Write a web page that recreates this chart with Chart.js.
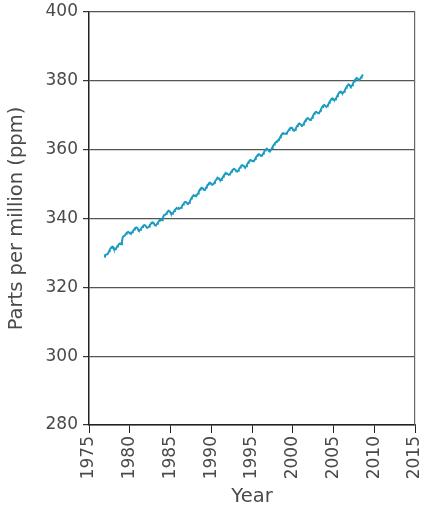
<!DOCTYPE html>
<html>
<head>
<meta charset="utf-8">
<script src="https://cdn.jsdelivr.net/npm/chart.js@4.4.1/dist/chart.umd.min.js"></script>
<style>
  html, body { margin: 0; padding: 0; background: #ffffff; }
  #wrap { width: 425px; height: 510px; }
</style>
</head>
<body>
<div id="wrap"><canvas id="co2"></canvas></div>
<script>
// Monthly mean CO2 concentration (ppm), November 1976 to August 2008
const firstYear = 1976;
const firstMonthIndex = 10; // November
const ppmMonthly = [
  328.9, 329.3,
  329.4, 329.5, 329.5, 329.7, 330.1, 330.5, 330.9, 331.2, 331.5, 331.7, 331.8, 331.7, // 1977
  331.2, 331.0, 331.1, 331.2, 331.5, 331.9, 332.1, 332.4, 332.6, 332.7, 332.7, 332.5, // 1978
  333.2, 334.4, 334.8, 334.8, 335.0, 335.3, 335.6, 335.8, 336.0, 336.1, 336.0, 335.8, // 1979
  335.9, 335.7, 335.8, 336.0, 336.3, 336.6, 336.8, 337.1, 337.3, 337.4, 337.4, 337.2, // 1980
  336.7, 336.5, 336.6, 336.7, 337.0, 337.3, 337.5, 337.8, 338.0, 338.1, 338.0, 337.8, // 1981
  337.5, 337.3, 337.3, 337.5, 337.7, 338.1, 338.3, 338.6, 338.8, 338.9, 338.8, 338.6, // 1982
  338.2, 338.0, 338.1, 338.3, 338.5, 338.9, 339.1, 339.4, 339.6, 339.7, 339.6, 339.5, // 1983
  340.0, 340.6, 341.0, 341.0, 341.1, 341.4, 341.6, 341.9, 342.1, 342.2, 342.1, 341.9, // 1984
  341.5, 341.3, 341.4, 341.6, 341.9, 342.2, 342.5, 342.7, 342.9, 343.0, 342.9, 342.8, // 1985
  343.0, 342.9, 343.0, 343.1, 343.4, 343.8, 344.1, 344.4, 344.6, 344.8, 344.8, 344.7, // 1986
  344.4, 344.3, 344.4, 344.6, 345.0, 345.4, 345.8, 346.1, 346.4, 346.6, 346.7, 346.6, // 1987
  346.7, 346.6, 346.7, 347.0, 347.3, 347.7, 348.1, 348.4, 348.7, 348.9, 348.9, 348.8, // 1988
  348.5, 348.3, 348.4, 348.6, 349.0, 349.3, 349.7, 349.9, 350.2, 350.4, 350.4, 350.2, // 1989
  349.9, 349.8, 349.8, 350.1, 350.4, 350.7, 351.1, 351.3, 351.6, 351.8, 351.7, 351.6, // 1990
  351.3, 351.2, 351.2, 351.5, 351.8, 352.1, 352.5, 352.7, 353.0, 353.2, 353.1, 353.0, // 1991
  352.9, 352.7, 352.8, 352.9, 353.2, 353.6, 353.8, 354.1, 354.3, 354.4, 354.4, 354.2, // 1992
  353.8, 353.7, 353.7, 353.9, 354.2, 354.6, 354.8, 355.1, 355.4, 355.5, 355.4, 355.3, // 1993
  355.1, 354.9, 355.0, 355.2, 355.6, 355.9, 356.3, 356.5, 356.8, 357.0, 357.0, 356.8, // 1994
  356.8, 356.6, 356.7, 356.9, 357.3, 357.6, 358.0, 358.2, 358.5, 358.7, 358.7, 358.5, // 1995
  358.4, 358.2, 358.3, 358.5, 358.9, 359.2, 359.6, 359.8, 360.1, 360.3, 360.2, 360.1, // 1996
  359.7, 359.5, 359.6, 359.8, 360.1, 360.5, 360.9, 361.2, 361.5, 361.8, 362.0, 362.2, // 1997
  362.4, 362.5, 362.7, 362.9, 363.2, 363.6, 364.0, 364.3, 364.6, 364.8, 364.8, 364.7, // 1998
  364.7, 364.6, 364.7, 364.9, 365.2, 365.5, 365.8, 366.1, 366.3, 366.4, 366.4, 366.2, // 1999
  365.7, 365.6, 365.6, 365.8, 366.2, 366.5, 366.9, 367.1, 367.4, 367.6, 367.5, 367.4, // 2000
  367.1, 367.0, 367.1, 367.3, 367.7, 368.0, 368.4, 368.7, 368.9, 369.1, 369.1, 369.0, // 2001
  368.8, 368.6, 368.7, 368.9, 369.3, 369.7, 370.1, 370.4, 370.7, 370.9, 371.0, 370.9, // 2002
  370.7, 370.6, 370.7, 370.9, 371.3, 371.7, 372.1, 372.4, 372.7, 372.9, 373.0, 372.8, // 2003
  372.6, 372.5, 372.6, 372.8, 373.2, 373.6, 374.0, 374.3, 374.6, 374.8, 374.9, 374.8, // 2004
  374.5, 374.4, 374.6, 374.8, 375.2, 375.6, 376.0, 376.3, 376.6, 376.8, 376.9, 376.8, // 2005
  376.5, 376.4, 376.6, 376.8, 377.2, 377.6, 378.0, 378.3, 378.6, 378.8, 378.9, 378.8, // 2006
  378.5, 378.3, 378.5, 378.7, 379.1, 379.5, 379.9, 380.2, 380.5, 380.7, 380.8, 380.7, // 2007
  380.4, 380.3, 380.4, 380.6, 381.0, 381.3, 381.6, 381.8                              // 2008
];

const yearTicks = [1975, 1980, 1985, 1990, 1995, 2000, 2005, 2010, 2015];
const ppmTicks = [280, 300, 320, 340, 360, 380, 400];

// each monthly value sits at the middle of its month
const points = ppmMonthly.map((v, i) => ({
  x: firstYear + (firstMonthIndex + i + 0.5) / 12,
  y: v
}));

const textColor = '#4a4a4a';
const tickFont = { family: "'DejaVu Sans', sans-serif", size: 17, weight: 'normal' };
const titleFont = { family: "'DejaVu Sans', sans-serif", size: 19.5, weight: 'normal' };

new Chart(document.getElementById('co2'), {
  type: 'line',
  data: {
    datasets: [{
      data: points,
      borderColor: '#1b9bc2',
      borderWidth: 2,
      pointRadius: 0,
      tension: 0,
      fill: false
    }]
  },
  options: {
    responsive: true,
    maintainAspectRatio: false,
    animation: false,
    layout: { padding: { top: 12, right: 10, bottom: 0, left: 0 } },
    plugins: { legend: { display: false }, tooltip: { enabled: false } },
    scales: {
      x: {
        type: 'linear',
        min: yearTicks[0],
        max: yearTicks[yearTicks.length - 1],
        afterBuildTicks: s => { s.ticks = yearTicks.map(v => ({ value: v })); },
        afterFit: s => { s.height = 85; s.paddingLeft = 0; s.paddingRight = 0; },
        ticks: {
          autoSkip: false,
          minRotation: 90,
          maxRotation: 90,
          padding: 3,
          color: textColor,
          font: tickFont,
          callback: v => String(v)
        },
        grid: { drawOnChartArea: false, drawTicks: true, tickLength: 8, color: '#222', lineWidth: 1 },
        border: { display: true, color: '#222', width: 1.5 },
        title: {
          display: true,
          text: 'Year',
          color: textColor,
          font: titleFont,
          padding: { top: 0, bottom: 1 }
        }
      },
      y: {
        min: ppmTicks[0],
        max: ppmTicks[ppmTicks.length - 1],
        afterBuildTicks: s => { s.ticks = ppmTicks.map(v => ({ value: v })); },
        afterFit: s => { s.width = 89; s.paddingTop = 0; s.paddingBottom = 0; },
        ticks: {
          padding: 5,
          color: textColor,
          font: tickFont,
          callback: v => String(v)
        },
        grid: { color: '#555', lineWidth: 1.2, tickLength: 6, tickColor: '#333' },
        border: { display: true, color: '#222', width: 1.5 },
        title: {
          display: true,
          text: 'Parts per million (ppm)',
          color: textColor,
          font: titleFont,
          padding: { top: 5, bottom: 0 }
        }
      },
      yRight: {
        position: 'right',
        min: ppmTicks[0],
        max: ppmTicks[ppmTicks.length - 1],
        afterFit: s => { s.width = 0; s.paddingTop = 0; s.paddingBottom = 0; },
        ticks: { display: false },
        grid: { drawOnChartArea: false, drawTicks: false },
        border: { display: true, color: '#666', width: 1.2 }
      }
    }
  }
});
</script>
</body>
</html>
